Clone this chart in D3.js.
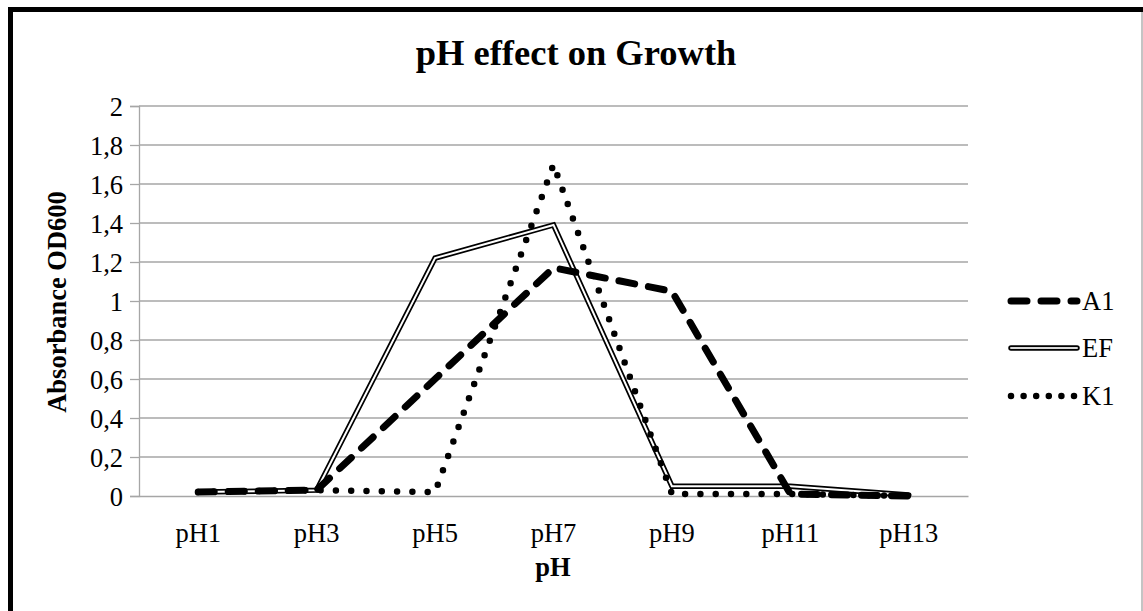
<!DOCTYPE html>
<html>
<head>
<meta charset="utf-8">
<script src="https://cdn.jsdelivr.net/npm/d3@7/dist/d3.min.js"></script>
<style>
  html, body { margin: 0; padding: 0; background: #fff; }
  svg { display: block; }
  text { font-family: "Liberation Serif", "Times New Roman", serif; fill: #000; }
</style>
</head>
<body>
<svg id="chart" width="1143" height="611"></svg>
<script>
// pH levels on the category axis
const categories = ["pH1", "pH3", "pH5", "pH7", "pH9", "pH11", "pH13"];

// Absorbance (OD600) for each strain
const seriesA1 = [0.02, 0.03, 0.60, 1.17, 1.05, 0.01, 0.00];
const seriesEF = [0.02, 0.03, 1.22, 1.39, 0.05, 0.05, 0.005];
const seriesK1 = [0.02, 0.03, 0.02, 1.70, 0.01, 0.01, 0.00];

const seriesNames = ["A1", "EF", "K1"];
const yTicks = [0, 0.2, 0.4, 0.6, 0.8, 1, 1.2, 1.4, 1.6, 1.8, 2];

const svg = d3.select("#chart");
const W = 1143, H = 611;
const tickFont = 26.5;

// outer frame
svg.append("rect").attr("x", 0).attr("y", 0).attr("width", W).attr("height", H).attr("fill", "#fff");
svg.append("line").attr("x1", W - 1).attr("x2", W - 1).attr("y1", 12).attr("y2", H)
  .attr("stroke", "#b0b0b0").attr("stroke-width", 1.5);
svg.append("rect").attr("x", 10.5).attr("y", 9.5).attr("width", W + 20).attr("height", H + 20)
  .attr("fill", "none").attr("stroke", "#000").attr("stroke-width", 5);

const plot = { left: 139, right: 968, top: 106, bottom: 496 };

const x = d3.scaleBand().domain(categories).range([plot.left, plot.right]);
const xc = d => x(d) + x.bandwidth() / 2;
const y = d3.scaleLinear().domain([0, 2]).range([plot.bottom, plot.top]);

const fmt = v => d3.format("~g")(v).replace(".", ",");

// horizontal gridlines
svg.append("g").selectAll("line").data(yTicks.filter(t => t > 0)).join("line")
  .attr("x1", plot.left).attr("x2", plot.right)
  .attr("y1", d => y(d)).attr("y2", d => y(d))
  .attr("stroke", "#a6a6a6").attr("stroke-width", 1.3);

// y axis
const yAxis = svg.append("g").attr("transform", `translate(${plot.left},0)`)
  .call(d3.axisLeft(y).tickValues(yTicks).tickFormat(fmt).tickSize(9).tickPadding(7));
yAxis.select(".domain").attr("stroke", "#a6a6a6").attr("stroke-width", 1.3);
yAxis.selectAll(".tick line").attr("stroke", "#a6a6a6").attr("stroke-width", 1.3);
yAxis.selectAll(".tick text").attr("font-size", tickFont)
  .attr("font-family", "'Liberation Serif', serif").attr("fill", "#000").attr("dy", "0.34em");

// x axis
const xAxis = svg.append("g").attr("transform", `translate(0,${plot.bottom})`)
  .call(d3.axisBottom(x).tickSize(0).tickPadding(0));
xAxis.select(".domain").attr("stroke", "#a6a6a6").attr("stroke-width", 1.3);
xAxis.selectAll(".tick text").attr("font-size", tickFont)
  .attr("font-family", "'Liberation Serif', serif").attr("fill", "#000")
  .attr("dy", null).attr("y", 46);

// titles
svg.append("text").attr("x", 576).attr("y", 65).attr("text-anchor", "middle")
  .attr("font-size", 36.5).attr("font-weight", "bold").text("pH effect on Growth");
svg.append("text").attr("x", 553).attr("y", 576).attr("text-anchor", "middle")
  .attr("font-size", tickFont).attr("font-weight", "bold").text("pH");
svg.append("text").attr("transform", "translate(66,302) rotate(-90)").attr("text-anchor", "middle")
  .attr("font-size", tickFont).attr("font-weight", "bold").text("Absorbance OD600");

const line = d3.line().x((d, i) => xc(categories[i])).y(d => y(d));

// series drawing styles
function drawA1(g, path) {
  g.append("path").attr("d", path).attr("fill", "none").attr("stroke", "#000")
    .attr("stroke-width", 7).attr("stroke-linecap", "round").attr("stroke-linejoin", "round")
    .attr("stroke-dasharray", "16,14");
}
function drawEF(g, path, inner) {
  g.append("path").attr("d", path).attr("fill", "none").attr("stroke", "#000")
    .attr("stroke-width", 5.5).attr("stroke-linecap", "round").attr("stroke-linejoin", "miter");
  g.append("path").attr("d", path).attr("fill", "none").attr("stroke", inner)
    .attr("stroke-width", 2).attr("stroke-linecap", "round").attr("stroke-linejoin", "miter");
}
function drawK1(g, path, gap) {
  g.append("path").attr("d", path).attr("fill", "none").attr("stroke", "#000")
    .attr("stroke-width", 6.5).attr("stroke-linecap", "round").attr("stroke-linejoin", "round")
    .attr("stroke-dasharray", `0,${gap}`);
}

const lines = svg.append("g");
drawEF(lines, line(seriesEF), "#fff");
drawK1(lines, line(seriesK1), 15.3);
drawA1(lines, line(seriesA1));

// legend
const legendY = [301, 348, 396];
const lg = svg.append("g");
seriesNames.forEach((name, i) => {
  const p = `M1011,${legendY[i]}L1077,${legendY[i]}`;
  if (name === "A1") drawA1(lg, p);
  if (name === "EF") drawEF(lg, p, "#d8d8d8");
  if (name === "K1") drawK1(lg, p, 12.6);
  lg.append("text").attr("x", 1082).attr("y", legendY[i]).attr("dy", "0.34em")
    .attr("font-size", tickFont).text(name);
});
</script>
</body>
</html>
